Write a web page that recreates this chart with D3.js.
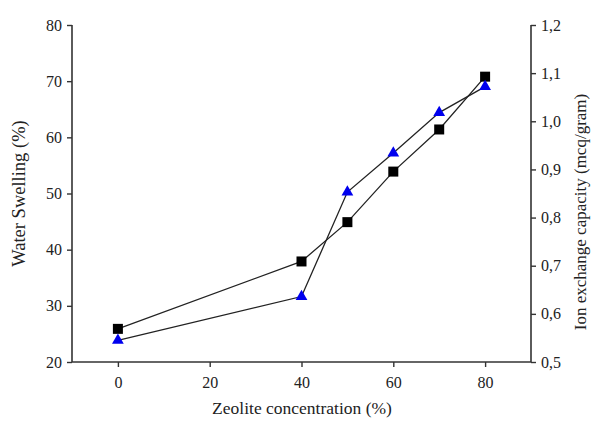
<!DOCTYPE html>
<html lang="en">
<head>
    <meta charset="UTF-8">
    <title>Zeolite concentration</title>
    <script src="https://d3js.org/d3.v7.min.js"></script>
    <style>
        body { margin: 0; background: #fff; }
        svg text { font-family: "Liberation Serif", "Times New Roman", "DejaVu Serif", serif !important; fill: #222; }
    </style>
</head>
<body>
    <div id="chart"></div>
    <script>
        // Data
        const zeolite = [0, 40, 50, 60, 70, 80];
        const waterSwelling = [25.9, 37.9, 44.9, 53.9, 61.4, 70.8];
        const ionExchange = [0.545, 0.636, 0.853, 0.934, 1.018, 1.072];

        const xTicks = [0, 20, 40, 60, 80];
        const leftTicks = [20, 30, 40, 50, 60, 70, 80];
        const rightTicks = [0.5, 0.6, 0.7, 0.8, 0.9, 1.0, 1.1, 1.2];

        const width = 593;
        const height = 421;
        const margin = { top: 25, bottom: 59, left: 72, right: 62 };
        const innerW = width - margin.left - margin.right;
        const innerH = height - margin.top - margin.bottom;

        const svg = d3.select("#chart")
            .append("svg")
            .attr("width", width)
            .attr("height", height);

        const g = svg.append("g")
            .attr("transform", `translate(${margin.left},${margin.top})`);

        // scales
        const xScale = d3.scaleLinear().domain([-10, 90]).range([0, innerW]);
        const yLeft = d3.scaleLinear().domain([20, 80]).range([innerH, 0]);
        const yRight = d3.scaleLinear().domain([0.5, 1.2]).range([innerH, 0]);

        const comma = d => d3.format(".1f")(d).replace(".", ",");

        // axes
        const xAxis = g.append("g")
            .attr("transform", `translate(0,${innerH})`)
            .call(d3.axisBottom(xScale).tickValues(xTicks).tickSize(5).tickPadding(10));

        const leftAxis = g.append("g")
            .call(d3.axisLeft(yLeft).tickValues(leftTicks).tickSize(5).tickPadding(5));

        const rightAxis = g.append("g")
            .attr("transform", `translate(${innerW},0)`)
            .call(d3.axisRight(yRight).tickValues(rightTicks).tickFormat(comma).tickSize(5).tickPadding(5));

        [xAxis, leftAxis, rightAxis].forEach(a => {
            a.attr("font-family", null);
            a.selectAll("path").attr("stroke", "#333").attr("stroke-width", 1.6);
            a.selectAll("line").attr("stroke", "#333").attr("stroke-width", 1.4);
            a.selectAll("text")
                .style("font-size", "16px")
                .attr("fill", "#333");
        });
        // remove the outer end ticks of the domain paths
        xAxis.select(".domain").attr("d", `M0,0H${innerW}`);
        leftAxis.select(".domain").attr("d", `M0,${innerH}V0`);
        rightAxis.select(".domain").attr("d", `M0,${innerH}V0`);

        // lines
        const swellLine = d3.line()
            .x((d, i) => xScale(zeolite[i]))
            .y(d => yLeft(d));

        const ionLine = d3.line()
            .x((d, i) => xScale(zeolite[i]))
            .y(d => yRight(d));

        g.append("path")
            .datum(waterSwelling)
            .attr("fill", "none")
            .attr("stroke", "#222")
            .attr("stroke-width", 1.3)
            .attr("d", swellLine);

        g.append("path")
            .datum(ionExchange)
            .attr("fill", "none")
            .attr("stroke", "#222")
            .attr("stroke-width", 1.3)
            .attr("d", ionLine);

        // square markers
        g.selectAll(".sq")
            .data(waterSwelling)
            .enter()
            .append("rect")
            .attr("x", (d, i) => xScale(zeolite[i]) - 5)
            .attr("y", d => yLeft(d) - 5)
            .attr("width", 10)
            .attr("height", 10)
            .attr("fill", "#000");

        // triangle markers
        const tri = d3.symbol().type(d3.symbolTriangle).size(60);
        g.selectAll(".tri")
            .data(ionExchange)
            .enter()
            .append("path")
            .attr("d", tri)
            .attr("transform", (d, i) => `translate(${xScale(zeolite[i])},${yRight(d)})`)
            .attr("fill", "#0000ee");

        // axis titles
        svg.append("text")
            .attr("transform", `translate(25,${margin.top + innerH / 2}) rotate(-90)`)
            .attr("text-anchor", "middle")
            .style("font-size", "18.5px")
            .text("Water Swelling (%)");

        svg.append("text")
            .attr("transform", `translate(586,212) rotate(-90)`)
            .attr("text-anchor", "middle")
            .style("font-size", "17px")
            .text("Ion exchange capacity (mcq/gram)");

        svg.append("text")
            .attr("x", 302)
            .attr("y", 414)
            .attr("text-anchor", "middle")
            .style("font-size", "17.5px")
            .text("Zeolite concentration (%)");
    </script>
</body>
</html>
